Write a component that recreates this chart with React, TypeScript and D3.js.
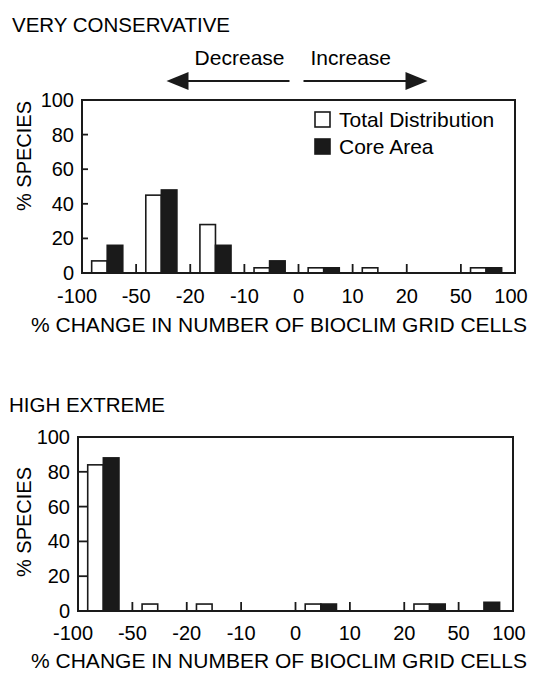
import React, { useEffect, useRef } from 'react'
import * as d3 from 'd3'

// class edges along the x axis (% change in number of bioclim grid cells)
const tickLabels = ['-100', '-50', '-20', '-10', '0', '10', '20', '50', '100']
const binKeys = tickLabels.slice(0, 8)

// VERY CONSERVATIVE panel (% species)
const conservTotal = [7, 45, 28, 3, 3, 3, 0, 3]
const conservCore = [16, 48, 16, 7, 3, 0, 0, 3]

// HIGH EXTREME panel (% species)
const extremeTotal = [84, 4, 4, 0, 4, 0, 4, 0]
const extremeCore = [88, 0, 0, 0, 4, 0, 4, 5]

const yTicks = [0, 20, 40, 60, 80, 100]
const seriesKeys = ['total', 'core']
const seriesNames = ['Total Distribution', 'Core Area']

const FONT = '"Liberation Sans", Arial, Helvetica, sans-serif'

const App = () => {
    const ref = useRef(null)

    useEffect(() => {
        const svg = d3.select(ref.current)
        svg.selectAll('*').remove()

        const drawPanel = (opts) => {
            const { title, titleY, left, right, top, bottom, total, core, yTick, showArrows, showLegend, tickY, labelY, speciesY } = opts
            const g = svg.append('g')

            const x = d3.scaleBand().domain(binKeys).range([left, right]).padding(0)
            const edge = d3.scalePoint().domain(tickLabels).range([left, right])
            const inner = d3.scaleBand().domain(seriesKeys).range([0, x.bandwidth()])
                .paddingInner(0).paddingOuter(0.74).align(0.42)
            const y = d3.scaleLinear().domain([0, 100]).range([bottom, top])

            // panel title
            g.append('text')
                .attr('x', opts.titleX)
                .attr('y', titleY)
                .style('font-family', FONT)
                .style('font-size', '20.5px')
                .text(title)

            // bars
            const rows = binKeys.map((k, i) => ({ k, total: total[i], core: core[i] }))
            seriesKeys.forEach(s => {
                g.selectAll('.bar-' + s)
                    .data(rows.filter(d => d[s] > 0))
                    .enter()
                    .append('rect')
                    .attr('x', d => x(d.k) + inner(s))
                    .attr('y', d => y(d[s]))
                    .attr('width', inner.bandwidth())
                    .attr('height', d => y(0) - y(d[s]))
                    .attr('fill', s === 'core' ? '#1a1a1a' : '#fff')
                    .attr('stroke', '#1a1a1a')
                    .attr('stroke-width', 1.6)
            })

            // frame
            g.append('rect')
                .attr('x', left).attr('y', top)
                .attr('width', right - left).attr('height', bottom - top)
                .attr('fill', 'none')
                .attr('stroke', '#1a1a1a')
                .attr('stroke-width', 2)

            // inward y ticks
            g.selectAll('.ytick')
                .data(yTicks.slice(1, -1))
                .enter()
                .append('line')
                .attr('x1', left).attr('x2', left + yTick)
                .attr('y1', d => y(d)).attr('y2', d => y(d))
                .attr('stroke', '#1a1a1a').attr('stroke-width', 1.8)

            g.selectAll('.ylab')
                .data(yTicks)
                .enter()
                .append('text')
                .attr('x', left - 8)
                .attr('y', d => y(d))
                .attr('dy', '0.35em')
                .attr('text-anchor', 'end')
                .style('font-family', FONT)
                .style('font-size', '20px')
                .text(d => d)

            // inward x ticks at class edges
            g.selectAll('.xtick')
                .data(tickLabels.slice(1, -1))
                .enter()
                .append('line')
                .attr('x1', d => edge(d)).attr('x2', d => edge(d))
                .attr('y1', bottom).attr('y2', bottom - 9)
                .attr('stroke', '#1a1a1a').attr('stroke-width', 1.8)

            g.selectAll('.xlab')
                .data(tickLabels)
                .enter()
                .append('text')
                .attr('x', (d, i) => edge(d) + (i === 0 ? -5 : i === tickLabels.length - 1 ? -4 : 0))
                .attr('y', tickY)
                .attr('text-anchor', 'middle')
                .style('font-family', FONT)
                .style('font-size', '20px')
                .text(d => d)

            g.append('text')
                .attr('x', 279)
                .attr('y', labelY)
                .attr('text-anchor', 'middle')
                .style('font-family', FONT)
                .style('font-size', '21px')
                .text('% CHANGE IN NUMBER OF BIOCLIM GRID CELLS')

            g.append('text')
                .attr('transform', `translate(31,${speciesY}) rotate(-90)`)
                .attr('text-anchor', 'middle')
                .style('font-family', FONT)
                .style('font-size', '20px')
                .text('% SPECIES')

            if (showLegend) {
                seriesKeys.forEach((s, i) => {
                    const ly = top + 12 + i * 27
                    g.append('rect')
                        .attr('x', right - 200).attr('y', ly)
                        .attr('width', 15).attr('height', 15)
                        .attr('fill', s === 'core' ? '#1a1a1a' : '#fff')
                        .attr('stroke', '#1a1a1a').attr('stroke-width', 1.6)
                    g.append('text')
                        .attr('x', right - 176).attr('y', ly + 15)
                        .style('font-family', FONT)
                        .style('font-size', '21px')
                        .text(seriesNames[i])
                })
            }

            if (showArrows) {
                const cx = edge('0')
                const ay = top - 19
                g.append('line').attr('x1', cx - 9).attr('x2', cx - 112).attr('y1', ay).attr('y2', ay)
                    .attr('stroke', '#1a1a1a').attr('stroke-width', 2)
                g.append('path')
                    .attr('d', `M${cx - 132},${ay}L${cx - 110},${ay - 9}L${cx - 110},${ay + 9}Z`)
                    .attr('fill', '#1a1a1a')
                g.append('line').attr('x1', cx + 5).attr('x2', cx + 108).attr('y1', ay).attr('y2', ay)
                    .attr('stroke', '#1a1a1a').attr('stroke-width', 2)
                g.append('path')
                    .attr('d', `M${cx + 129},${ay}L${cx + 107},${ay - 9}L${cx + 107},${ay + 9}Z`)
                    .attr('fill', '#1a1a1a')
                g.append('text')
                    .attr('x', cx - 14).attr('y', top - 35)
                    .attr('text-anchor', 'end')
                    .style('font-family', FONT).style('font-size', '21px')
                    .text('Decrease')
                g.append('text')
                    .attr('x', cx + 12).attr('y', top - 35)
                    .style('font-family', FONT).style('font-size', '21px')
                    .text('Increase')
            }
        }

        drawPanel({
            title: 'VERY CONSERVATIVE', titleX: 12, titleY: 32,
            left: 82, right: 515, top: 100, bottom: 273,
            total: conservTotal, core: conservCore, yTick: 6,
            showArrows: true, showLegend: true, tickY: 303, labelY: 332, speciesY: 156
        })

        drawPanel({
            title: 'HIGH EXTREME', titleX: 9, titleY: 412,
            left: 78, right: 513, top: 437, bottom: 611,
            total: extremeTotal, core: extremeCore, yTick: 10,
            showArrows: false, showLegend: false, tickY: 640, labelY: 668, speciesY: 522
        })
    }, [])

    return (
        <svg
            ref={ref}
            width={539}
            height={675}
            style={{ position: 'absolute', left: 0, top: 0, background: '#fff' }}
        />
    )
}

export default App
